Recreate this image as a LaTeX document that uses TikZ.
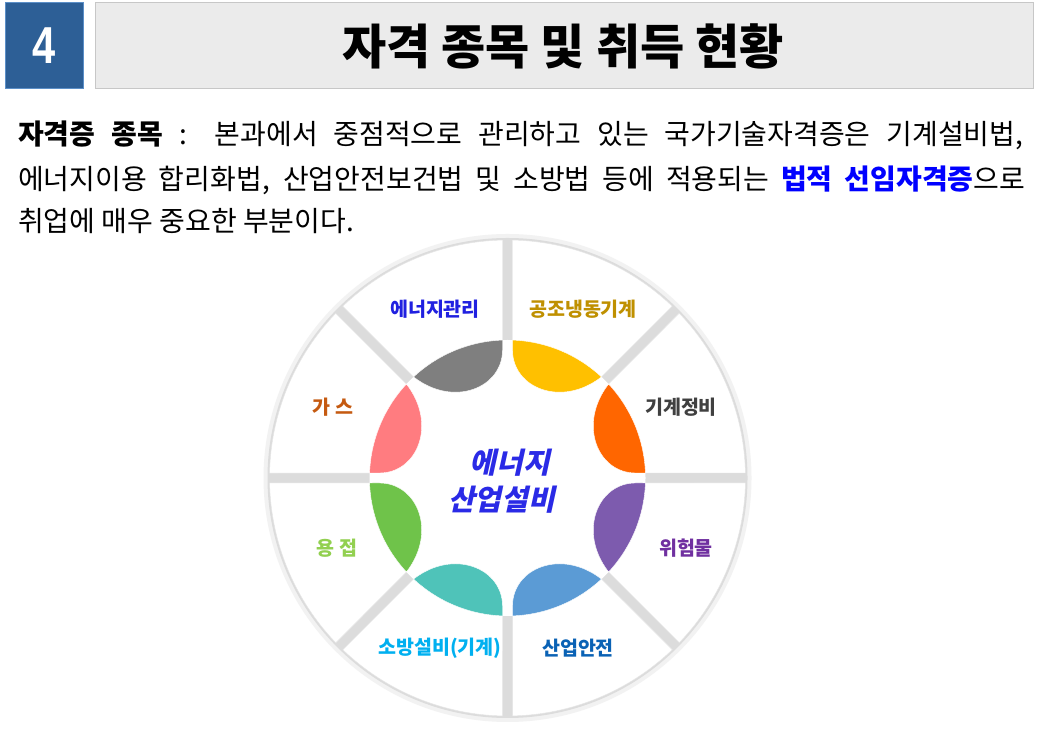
\documentclass[tikz,border=0pt]{standalone}
\usepackage{fontspec}
\setmainfont{Noto Sans CJK KR}
\newfontfamily\numfont{Liberation Sans}
\definecolor{boxblue}{HTML}{2D5F96}
\definecolor{boxedge}{HTML}{5B8FC8}
\definecolor{gapgray}{HTML}{DCDCDC}
\definecolor{textblue}{HTML}{0000FF}
\definecolor{coreblue}{HTML}{2A2AE6}
\definecolor{pgray}{HTML}{7F7F7F}
\definecolor{pyellow}{HTML}{FFC000}
\definecolor{porange}{HTML}{FF6600}
\definecolor{ppurple}{HTML}{7D5BAE}
\definecolor{pblue}{HTML}{5B9BD5}
\definecolor{pteal}{HTML}{4FC3B9}
\definecolor{pgreen}{HTML}{6FC34A}
\definecolor{ppink}{HTML}{FF7C80}
\definecolor{tmgmt}{HTML}{2020E0}
\definecolor{thvac}{HTML}{BF9000}
\definecolor{tmech}{HTML}{404040}
\definecolor{thaz}{HTML}{7030A0}
\definecolor{tsafety}{HTML}{0A62B5}
\definecolor{tfire}{HTML}{00B0F0}
\definecolor{tweld}{HTML}{92D050}
\definecolor{tgas}{HTML}{C55A11}
\begin{document}
\begin{tikzpicture}[x=1pt,y=1pt,
	lbl/.style={font=\fontsize{19.5}{22}\selectfont\bfseries},
	body/.style={anchor=west, inner sep=0pt, font=\fontsize{28}{32}\selectfont}]
	\useasboundingbox (0,0) rectangle (1040,743);
	\fill[white] (0,0) rectangle (1040,743);
	\draw[boxedge, fill=boxblue] (5,655) rectangle (83,741);
	\node[text=white, font=\numfont\bfseries\fontsize{52}{56}\selectfont, xscale=0.8] (num) at (44,697) {4};
	\draw[black!22, fill=black!8] (95,655) rectangle (1033,741);
	\node[font=\fontsize{48}{52}\selectfont\bfseries] (title) at (563,697) {자격 종목 및 취득 현황};
	\node[body] (line1) at (18,608) {\makebox[1005pt][s]{\bfseries 자격증 종목 \mdseries: 본과에서 중점적으로 관리하고 있는 국가기술자격증은 기계설비법,}};
	\node[body] (line2) at (18,563) {\makebox[1007pt][s]{에너지이용 합리화법, 산업안전보건법 및 소방법 등에 적용되는 {\bfseries\color{textblue}법적 선임자격증}으로}};
	\node[body] (line3) at (18,522) {취업에 매우 중요한 부분이다.};
	\coordinate (C) at (507.5,265);
	\fill[black!5] (C) circle[radius=244];
	\fill[gapgray] (C) circle[radius=240];
	\foreach \k in {0,...,7}
		\filldraw[white, draw=black!10, shift={(C)}, rotate=45*\k] (12.07,5) -- (237.9,5) arc[start angle=1.2, end angle=43.8, radius=238] -- cycle;
	\fill[white] (C) circle[radius=138];
	\foreach \r/\c in {0/pgray,-90/porange,90/pgreen,180/pblue}
		\filldraw[fill=\c, draw=white, shift={(C)}, rotate=\r] (132.9:138) arc[start angle=132.9, end angle=92.08, radius=138] -- (-5,128) .. controls (-5,90) and (-54,70) .. (132.9:138) -- cycle;
	\foreach \r/\c in {0/pyellow,90/ppink,-90/ppurple,180/pteal}
		\filldraw[fill=\c, draw=white, shift={(C)}, rotate=\r, xscale=-1] (132.9:138) arc[start angle=132.9, end angle=92.08, radius=138] -- (-5,128) .. controls (-5,90) and (-54,70) .. (132.9:138) -- cycle;
	\node[lbl, text=tmgmt] (mgmt) at (435,434) {에너지관리};
	\node[lbl, text=thvac] (hvac) at (583,434) {공조냉동기계};
	\node[lbl, text=tmech] (mech) at (681,336) {기계정비};
	\node[lbl, text=thaz] (haz) at (686,195) {위험물};
	\node[lbl, text=tsafety] (safety) at (578,95) {산업안전};
	\node[lbl, text=tfire] (fire) at (440,95) {소방설비(기계)};
	\node[lbl, text=tweld] (weld) at (337,195) {용 접};
	\node[lbl, text=tgas] (gas) at (333,336) {가 스};
	\node[align=center, text=coreblue, xslant=0.22, font=\bfseries\fontsize{29}{37}\selectfont] (core) at (508,262) {에너지\\산업설비};
\end{tikzpicture}
\end{document}
